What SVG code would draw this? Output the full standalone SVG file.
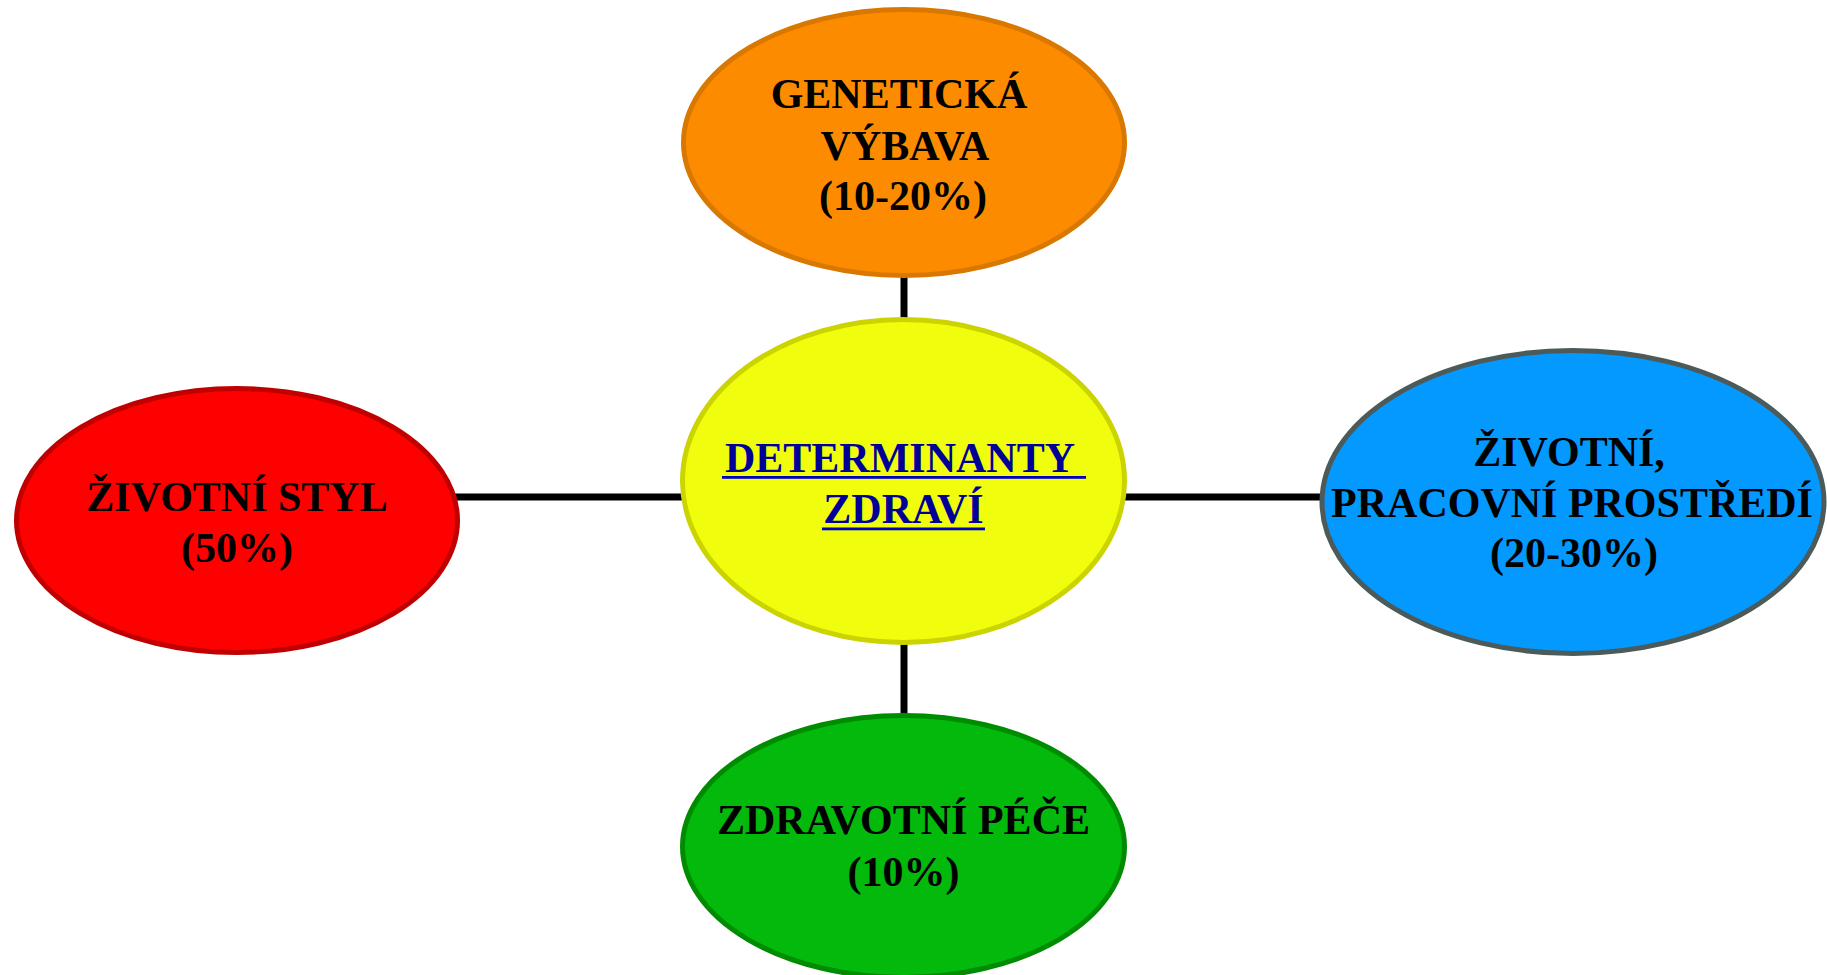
<svg xmlns="http://www.w3.org/2000/svg" width="1827" height="975" viewBox="0 0 1827 975">
<style>
.lbl{font-family:"Liberation Serif","Times New Roman",serif;font-weight:bold;font-size:42px;text-anchor:middle;fill:#000}
.lnk{font-family:"Liberation Serif","Times New Roman",serif;font-weight:bold;font-size:42px;text-anchor:middle;fill:#000099}
.node{stroke-width:5}
.conn{stroke:#000;stroke-width:7;fill:none}
</style>
<rect width="1827" height="975" fill="#fff"/>
<g id="connectors">
<line class="conn" x1="904" y1="276" x2="904" y2="322"/>
<line class="conn" x1="904" y1="640" x2="904" y2="718"/>
<line class="conn" x1="455" y1="497" x2="685" y2="497"/>
<line class="conn" x1="1122" y1="497" x2="1324" y2="497"/>
</g>
<g id="genetika">
<ellipse class="node" cx="904" cy="142.5" rx="220.5" ry="133" fill="#fd8b00" stroke="#d97800"/>
<text class="lbl" x="899" y="108">GENETICKÁ</text>
<text class="lbl" x="905" y="160">VÝBAVA</text>
<text class="lbl" x="903" y="210">(10-20%)</text>
</g>
<g id="determinanty">
<ellipse class="node" cx="903.5" cy="481" rx="221" ry="161.5" fill="#f0fd0c" stroke="#cbd400"/>
<text class="lnk" x="900" y="472">DETERMINANTY</text>
<text class="lnk" x="903.5" y="523">ZDRAVÍ</text>
<rect x="722" y="476" width="364" height="2.8" fill="#0000c0"/>
<rect x="822" y="527.5" width="163" height="2.8" fill="#0000c0"/>
</g>
<g id="styl">
<ellipse class="node" cx="237" cy="520.5" rx="220.5" ry="132" fill="#ff0000" stroke="#c00000"/>
<text class="lbl" x="237" y="511">ŽIVOTNÍ STYL</text>
<text class="lbl" x="237" y="562">(50%)</text>
</g>
<g id="prostredi">
<ellipse class="node" cx="1573" cy="502" rx="251" ry="151.5" fill="#0399fe" stroke="#4d5a5a"/>
<text class="lbl" x="1569" y="466">ŽIVOTNÍ,</text>
<text class="lbl" x="1572" y="517">PRACOVNÍ PROSTŘEDÍ</text>
<text class="lbl" x="1574" y="567">(20-30%)</text>
</g>
<g id="pece">
<ellipse class="node" cx="903.5" cy="846.5" rx="221" ry="131" fill="#02b90c" stroke="#008c00"/>
<text class="lbl" x="903.5" y="834">ZDRAVOTNÍ PÉČE</text>
<text class="lbl" x="903.5" y="886">(10%)</text>
</g>
</svg>
